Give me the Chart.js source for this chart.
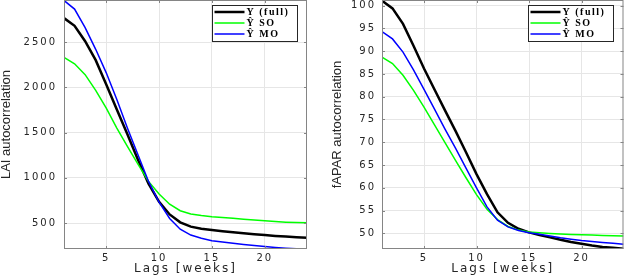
<!DOCTYPE html>
<html>
<head>
<meta charset="utf-8">
<script src="https://cdn.jsdelivr.net/npm/chart.js@4.4.1/dist/chart.umd.min.js"></script>
<style>
  html, body { margin: 0; padding: 0; background: #fff; }
  .wrap { position: absolute; top: 0; width: 312px; height: 276px; }
  #left { left: 0; }
  #right { left: 312px; }
</style>
</head>
<body>
<div class="wrap" id="left"><canvas id="laiChart" width="312" height="276"></canvas></div>
<div class="wrap" id="right"><canvas id="faparChart" width="312" height="276"></canvas></div>
<script>
const lags = [1, 2, 3, 4, 5, 6, 7, 8, 9, 10, 11, 12, 13, 14, 15, 16, 17, 18, 19, 20, 21, 22, 23, 24];
const seriesNames = ['Y (full)', 'Ŷ SO', 'Ŷ MO'];
const seriesColors = ['#000000', '#00ff00', '#0000ff'];
const xTicks = [5, 10, 15, 20];

// LAI autocorrelation
const laiFull = [2765, 2680, 2510, 2300, 2030, 1755, 1480, 1200, 935, 735, 595, 508, 460, 438, 423, 410, 397, 386, 376, 367, 358, 350, 344, 338];
const laiSO = [2330, 2260, 2140, 1966, 1770, 1550, 1347, 1150, 960, 820, 708, 636, 600, 583, 570, 561, 552, 543, 534, 525, 517, 510, 505, 502];
const laiMO = [2960, 2865, 2660, 2420, 2160, 1865, 1550, 1255, 960, 730, 550, 432, 367, 331, 305, 290, 276, 264, 252, 240, 230, 222, 216, 213];
const laiTicks = [500, 1000, 1500, 2000, 2500];

// fAPAR autocorrelation
const faparFull = [101.1, 99.4, 96.0, 91.2, 86.2, 81.6, 77.0, 72.5, 67.8, 63.0, 58.6, 54.6, 52.3, 51.0, 50.2, 49.6, 49.1, 48.6, 48.1, 47.7, 47.3, 47.0, 46.8, 46.6];
const faparSO = [88.7, 87.3, 84.7, 81.4, 77.7, 73.8, 69.9, 66.0, 62.2, 58.5, 55.3, 53.0, 51.5, 50.7, 50.3, 50.1, 49.95, 49.85, 49.75, 49.7, 49.6, 49.5, 49.45, 49.4];
const faparMO = [94.3, 92.7, 89.8, 85.9, 81.6, 77.3, 72.9, 68.7, 64.3, 60.0, 55.8, 52.9, 51.4, 50.6, 50.1, 49.8, 49.4, 49.0, 48.7, 48.4, 48.2, 48.0, 47.8, 47.6];
const faparTicks = [50, 55, 60, 65, 70, 75, 80, 85, 90, 95, 100];

const axisGray = '#858585';
const textGray = '#262626';

const boxPlugin = {
    id: 'matlabBox',
    beforeDraw(chart) {
        chart.ctx.letterSpacing = '2px';
        const ys = chart.scales.y;
        if (!ys._plainTitle) {
            const orig = ys.drawTitle;
            ys.drawTitle = function () {
                this.ctx.letterSpacing = '0px';
                orig.call(this);
                this.ctx.letterSpacing = '2px';
            };
            ys._plainTitle = true;
        }
    },
    afterDraw(chart) {
        const ctx = chart.ctx;
        const a = chart.chartArea;
        ctx.save();
        ctx.strokeStyle = axisGray;
        ctx.lineWidth = 1;
        ctx.strokeRect(a.left + 0.5, a.top + 0.5, a.right - a.left - 1, a.bottom - a.top - 1);

        // small inward ticks, like matlab
        ctx.beginPath();
        chart.scales.x.ticks.forEach(t => {
            const px = Math.round(chart.scales.x.getPixelForValue(t.value)) + 0.5;
            ctx.moveTo(px, a.bottom); ctx.lineTo(px, a.bottom - 3);
            ctx.moveTo(px, a.top); ctx.lineTo(px, a.top + 3);
        });
        chart.scales.y.ticks.forEach(t => {
            const py = Math.round(chart.scales.y.getPixelForValue(t.value)) + 0.5;
            ctx.moveTo(a.left, py); ctx.lineTo(a.left + 3, py);
            ctx.moveTo(a.right, py); ctx.lineTo(a.right - 3, py);
        });
        ctx.stroke();

        // legend box in the upper right corner
        const w = 85, h = 36;
        const lx = Math.round(a.right - 10.5 - w) + 0.5;
        const ly = a.top + 5.5;
        ctx.fillStyle = '#ffffff';
        ctx.fillRect(lx, ly, w, h);
        ctx.strokeStyle = textGray;
        ctx.strokeRect(lx, ly, w, h);
        ctx.font = 'bold 10px "Liberation Serif"';
        ctx.textBaseline = 'middle';
        ctx.textAlign = 'left';
        ctx.letterSpacing = '1.5px';
        chart.data.datasets.forEach((ds, i) => {
            const y = ly + 6.5 + i * 11;
            ctx.strokeStyle = ds.borderColor;
            ctx.lineWidth = ds.borderWidth;
            ctx.beginPath();
            ctx.moveTo(lx + 2, y);
            ctx.lineTo(lx + 32, y);
            ctx.stroke();
            ctx.fillStyle = '#000000';
            ctx.fillText(ds.label, lx + 34, y + 0.5);
        });
        ctx.restore();
    }
};

function makeChart(el, values, yTitle, yMin, yMax, yTicks, yWidth, titlePad, tickPad, rightPad) {
    return new Chart(el, {
        type: 'line',
        data: {
            datasets: values.map((v, i) => ({
                label: seriesNames[i],
                data: lags.map((l, j) => ({x: l, y: v[j]})),
                borderColor: seriesColors[i],
                backgroundColor: seriesColors[i],
                borderWidth: i === 0 ? 2.5 : 1.5,
                pointRadius: 0,
                tension: 0,
                order: 3 - i
            }))
        },
        options: {
            responsive: false,
            animation: false,
            events: [],
            layout: { padding: { left: 0, right: rightPad, top: 0, bottom: 0 } },
            plugins: {
                legend: { display: false },
                tooltip: { enabled: false }
            },
            scales: {
                x: {
                    type: 'linear',
                    min: 1,
                    max: 24,
                    afterBuildTicks: s => { s.ticks = xTicks.map(v => ({value: v})); },
                    afterFit: s => { s.height = 27; s.paddingLeft = 0; s.paddingRight = 0; },
                    grid: { color: '#e6e6e6', drawTicks: false },
                    border: { display: false },
                    ticks: {
                        padding: 3,
                        maxRotation: 0,
                        color: textGray,
                        font: { family: 'DejaVu Sans', size: 10 },
                        callback: v => String(v)
                    },
                    title: {
                        display: true,
                        text: 'Lags [weeks]',
                        color: textGray,
                        padding: { top: 0, bottom: 1.5 },
                        font: { family: 'DejaVu Sans', size: 12, lineHeight: 1 }
                    }
                },
                y: {
                    min: yMin,
                    max: yMax,
                    afterBuildTicks: s => { s.ticks = yTicks.map(v => ({value: v})); },
                    afterFit: s => { s.width = yWidth; s.paddingTop = 0; s.paddingBottom = 0; },
                    grid: { color: '#e6e6e6', drawTicks: false },
                    border: { display: false },
                    ticks: {
                        padding: tickPad,
                        color: textGray,
                        font: { family: 'DejaVu Sans', size: 10 },
                        callback: v => String(v)
                    },
                    title: {
                        display: true,
                        text: yTitle,
                        color: textGray,
                        padding: { top: titlePad, bottom: 0 },
                        font: { family: 'Liberation Sans', size: 13, lineHeight: 1 }
                    }
                }
            }
        },
        plugins: [boxPlugin]
    });
}

makeChart(document.getElementById('laiChart'), [laiFull, laiSO, laiMO],
    'LAI autocorrelation', 213, 2965, laiTicks, 64, 0, 7, 5);
makeChart(document.getElementById('faparChart'), [faparFull, faparSO, faparMO],
    'fAPAR autocorrelation', 46.55, 101.25, faparTicks, 70, 18.5, 6, 0.5);
</script>
</body>
</html>
